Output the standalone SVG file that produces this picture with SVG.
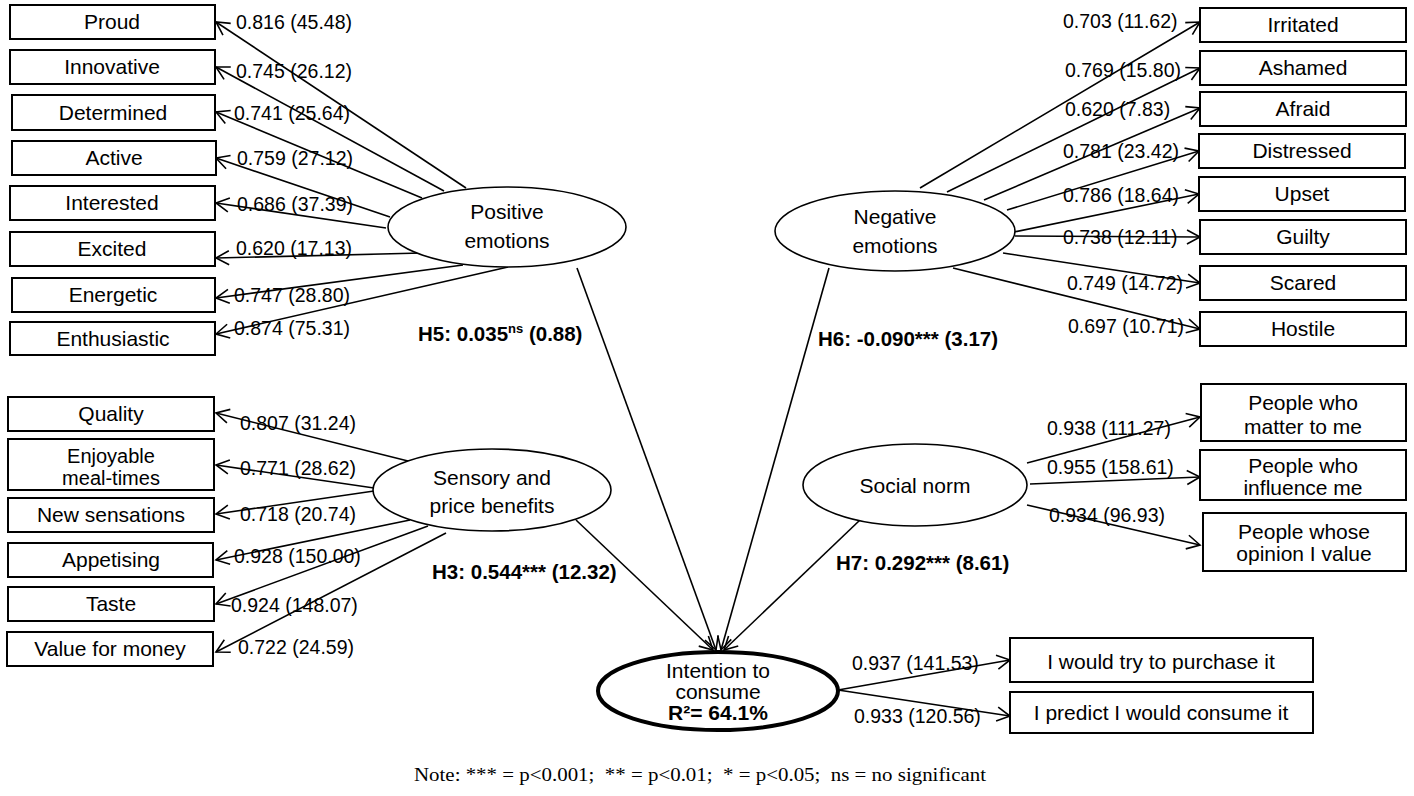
<svg xmlns="http://www.w3.org/2000/svg" width="1414" height="796" viewBox="0 0 1414 796">
<defs>
<marker id="ah" markerUnits="userSpaceOnUse" markerWidth="20" markerHeight="20" viewBox="-14 -10 20 20" refX="0" refY="0" orient="auto">
<path d="M-13,-7 L0,0 L-13,7" fill="none" stroke="#000" stroke-width="1.6"/>
</marker>
<style>
.box{fill:#fff;stroke:#000;stroke-width:2}
.ell{fill:#fff;stroke:#000;stroke-width:1.6}
.t{font-family:"Liberation Sans",Arial,sans-serif;font-size:21px;fill:#000;text-anchor:middle}
.t2{font-size:20px}
.l{font-family:"Liberation Sans",Arial,sans-serif;font-size:19.5px;fill:#000}
.h{font-family:"Liberation Sans",Arial,sans-serif;font-size:20.5px;font-weight:bold;fill:#000}
.c line{stroke:#000;stroke-width:1.6;marker-end:url(#ah)}
.note{font-family:"Liberation Serif","Times New Roman",serif;font-size:18px;fill:#000;white-space:pre}
</style>
</defs>
<rect width="1414" height="796" fill="#fff"/>

<g id="connectors" class="c">
<line x1="466" y1="188" x2="216" y2="22"/>
<line x1="444" y1="191" x2="216" y2="67"/>
<line x1="422" y1="198" x2="216" y2="112"/>
<line x1="390" y1="217" x2="216" y2="158"/>
<line x1="386" y1="228" x2="216" y2="203"/>
<line x1="422" y1="253" x2="216" y2="258"/>
<line x1="463" y1="265" x2="216" y2="298"/>
<line x1="508" y1="267" x2="216" y2="334"/>
<line x1="408" y1="461" x2="216" y2="413"/>
<line x1="374" y1="488" x2="216" y2="465"/>
<line x1="374" y1="491" x2="216" y2="514"/>
<line x1="410" y1="520" x2="216" y2="560"/>
<line x1="428" y1="526" x2="216" y2="604"/>
<line x1="446" y1="533" x2="216" y2="652"/>
<line x1="920" y1="188" x2="1200" y2="22"/>
<line x1="947" y1="192" x2="1200" y2="68"/>
<line x1="984" y1="200" x2="1200" y2="108"/>
<line x1="1007" y1="210" x2="1199" y2="151"/>
<line x1="1014" y1="232" x2="1199" y2="194"/>
<line x1="1015" y1="236" x2="1200" y2="237"/>
<line x1="1003" y1="253" x2="1200" y2="283"/>
<line x1="953" y1="268" x2="1200" y2="329"/>
<line x1="1027" y1="463" x2="1200" y2="417"/>
<line x1="1030" y1="484" x2="1200" y2="477"/>
<line x1="1027" y1="505" x2="1200" y2="545"/>
<line x1="838" y1="690" x2="1010" y2="660"/>
<line x1="838" y1="690" x2="1010" y2="716"/>
<line x1="577" y1="268" x2="716" y2="650"/>
<line x1="576" y1="520" x2="713" y2="650"/>
<line x1="829" y1="268" x2="721" y2="650"/>
<line x1="860" y1="520" x2="724" y2="650"/>
</g>

<g id="labels">
<text class="l" x="236" y="29">0.816 (45.48)</text>
<text class="l" x="236" y="78">0.745 (26.12)</text>
<text class="l" x="234" y="120">0.741 (25.64)</text>
<text class="l" x="237" y="165">0.759 (27.12)</text>
<text class="l" x="237" y="211">0.686 (37.39)</text>
<text class="l" x="236" y="255">0.620 (17.13)</text>
<text class="l" x="234" y="302">0.747 (28.80)</text>
<text class="l" x="234" y="335">0.874 (75.31)</text>
<text class="l" x="240" y="430">0.807 (31.24)</text>
<text class="l" x="240" y="475">0.771 (28.62)</text>
<text class="l" x="240" y="521">0.718 (20.74)</text>
<text class="l" x="234" y="563">0.928 (150.00)</text>
<text class="l" x="231" y="612">0.924 (148.07)</text>
<text class="l" x="238" y="654">0.722 (24.59)</text>
<text class="l" x="1063" y="28">0.703 (11.62)</text>
<text class="l" x="1065" y="77">0.769 (15.80)</text>
<text class="l" x="1065" y="116">0.620 (7.83)</text>
<text class="l" x="1063" y="158">0.781 (23.42)</text>
<text class="l" x="1063" y="202">0.786 (18.64)</text>
<text class="l" x="1063" y="244">0.738 (12.11)</text>
<text class="l" x="1067" y="290">0.749 (14.72)</text>
<text class="l" x="1068" y="333">0.697 (10.71)</text>
<text class="l" x="1047" y="435">0.938 (111.27)</text>
<text class="l" x="1047" y="474">0.955 (158.61)</text>
<text class="l" x="1049" y="522">0.934 (96.93)</text>
<text class="l" x="852" y="670">0.937 (141.53)</text>
<text class="l" x="854" y="723">0.933 (120.56)</text>
<text class="h" x="418" y="341">H5: 0.035<tspan font-size="13" dy="-8">ns</tspan><tspan dy="8"> (0.88)</tspan></text>
<text class="h" x="818" y="346">H6: -0.090*** (3.17)</text>
<text class="h" x="432" y="579">H3: 0.544*** (12.32)</text>
<text class="h" x="836" y="570">H7: 0.292*** (8.61)</text>
<text class="note" x="414" y="781" textLength="572" lengthAdjust="spacingAndGlyphs">Note: *** = p&lt;0.001;  ** = p&lt;0.01;  * = p&lt;0.05;  ns = no significant</text>
</g>

<g id="proud"><rect class="box" x="10" y="5" width="205" height="34"/><text class="t" x="112" y="29">Proud</text></g>
<g id="innovative"><rect class="box" x="10" y="50" width="205" height="34"/><text class="t" x="112" y="74">Innovative</text></g>
<g id="determined"><rect class="box" x="12" y="95" width="203" height="35"/><text class="t" x="113" y="120">Determined</text></g>
<g id="active"><rect class="box" x="12" y="141" width="204" height="34"/><text class="t" x="114" y="165">Active</text></g>
<g id="interested"><rect class="box" x="10" y="186" width="205" height="34"/><text class="t" x="112" y="210">Interested</text></g>
<g id="excited"><rect class="box" x="10" y="232" width="205" height="34"/><text class="t" x="112" y="256">Excited</text></g>
<g id="energetic"><rect class="box" x="12" y="278" width="203" height="34"/><text class="t" x="113" y="302">Energetic</text></g>
<g id="enthusiastic"><rect class="box" x="10" y="322" width="205" height="33"/><text class="t" x="113" y="346">Enthusiastic</text></g>

<g id="quality"><rect class="box" x="8" y="397" width="206" height="34"/><text class="t" x="111" y="421">Quality</text></g>
<g id="enjoyable"><rect class="box" x="8" y="439" width="206" height="51"/><text class="t t2" x="111" y="463">Enjoyable</text><text class="t t2" x="111" y="485">meal-times</text></g>
<g id="new-sensations"><rect class="box" x="8" y="498" width="206" height="34"/><text class="t" x="111" y="522">New sensations</text></g>
<g id="appetising"><rect class="box" x="8" y="543" width="205" height="34"/><text class="t" x="111" y="567">Appetising</text></g>
<g id="taste"><rect class="box" x="8" y="587" width="206" height="34"/><text class="t" x="111" y="611">Taste</text></g>
<g id="value-for-money"><rect class="box" x="7" y="632" width="206" height="34"/><text class="t" x="110" y="656">Value for money</text></g>

<g id="irritated"><rect class="box" x="1200" y="8" width="206" height="34"/><text class="t" x="1303" y="32">Irritated</text></g>
<g id="ashamed"><rect class="box" x="1200" y="51" width="206" height="34"/><text class="t" x="1303" y="75">Ashamed</text></g>
<g id="afraid"><rect class="box" x="1200" y="92" width="206" height="34"/><text class="t" x="1303" y="116">Afraid</text></g>
<g id="distressed"><rect class="box" x="1199" y="134" width="206" height="34"/><text class="t" x="1302" y="158">Distressed</text></g>
<g id="upset"><rect class="box" x="1199" y="177" width="206" height="34"/><text class="t" x="1302" y="201">Upset</text></g>
<g id="guilty"><rect class="box" x="1200" y="220" width="206" height="34"/><text class="t" x="1303" y="244">Guilty</text></g>
<g id="scared"><rect class="box" x="1200" y="266" width="206" height="34"/><text class="t" x="1303" y="290">Scared</text></g>
<g id="hostile"><rect class="box" x="1200" y="312" width="206" height="34"/><text class="t" x="1303" y="336">Hostile</text></g>

<g id="people-matter"><rect class="box" x="1201" y="384" width="205" height="57"/><text class="t" x="1303" y="410">People who</text><text class="t" x="1303" y="434">matter to me</text></g>
<g id="people-influence"><rect class="box" x="1200" y="450" width="206" height="50"/><text class="t" x="1303" y="473">People who</text><text class="t" x="1303" y="495">influence me</text></g>
<g id="people-opinion"><rect class="box" x="1203" y="513" width="203" height="58"/><text class="t" x="1304" y="539">People whose</text><text class="t" x="1304" y="561">opinion I value</text></g>

<g id="try-purchase"><rect class="box" x="1010" y="638" width="303" height="44"/><text class="t" x="1161" y="669">I would try to purchase it</text></g>
<g id="predict-consume"><rect class="box" x="1010" y="692" width="303" height="41"/><text class="t" x="1161" y="720">I predict I would consume it</text></g>

<g id="positive-emotions"><ellipse class="ell" cx="507" cy="227" rx="119" ry="40"/><text class="t" x="507" y="219">Positive</text><text class="t" x="507" y="248">emotions</text></g>
<g id="sensory-price"><ellipse class="ell" cx="492" cy="490" rx="119" ry="41"/><text class="t" x="492" y="485">Sensory and</text><text class="t" x="492" y="513">price benefits</text></g>
<g id="negative-emotions"><ellipse class="ell" cx="895" cy="231" rx="120" ry="40"/><text class="t" x="895" y="224">Negative</text><text class="t" x="895" y="253">emotions</text></g>
<g id="social-norm"><ellipse class="ell" cx="915" cy="485" rx="112" ry="41"/><text class="t" x="915" y="493">Social norm</text></g>
<g id="intention"><ellipse cx="718" cy="691" rx="120" ry="39" fill="#fff" stroke="#000" stroke-width="4"/><text class="t" x="718" y="678" font-size="19">Intention to</text><text class="t" x="718" y="699" font-size="19">consume</text><text class="t" x="718" y="720" font-size="19" font-weight="bold">R²= 64.1%</text></g>
</svg>
